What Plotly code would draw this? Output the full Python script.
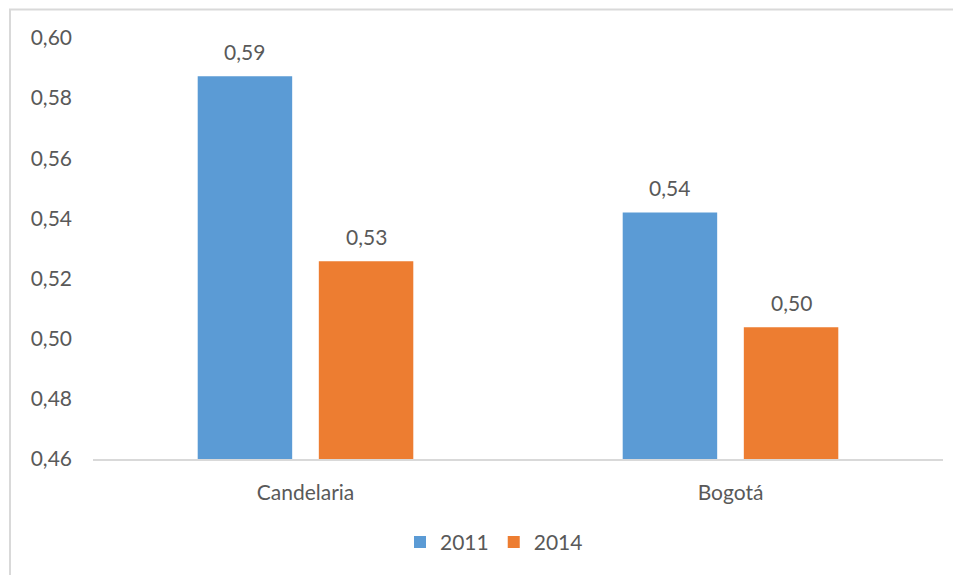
import plotly.graph_objects as go

categories = ["Candelaria", "Bogotá"]
series_names = ["2011", "2014"]
values_2011 = [0.5873, 0.5420]
values_2014 = [0.5258, 0.5038]
tick_vals = [0.46, 0.48, 0.50, 0.52, 0.54, 0.56, 0.58, 0.60]
tick_text = ["0,46", "0,48", "0,50", "0,52", "0,54", "0,56", "0,58", "0,60"]

colors = ["#5B9BD5", "#ED7D31"]
FONT = "Lato"
GRAY = "#595959"
FS = 21

# page has an 8px body margin; figure coordinates are page coordinates - 8
OFF = 8
W, H = 961 - OFF, 575 - OFF
ML, MT = 93 - OFF, 37.5 - OFF
MR = W - (943 - OFF)
MB = H - (459.5 - OFF)
PW = W - ML - MR
PH = H - MT - MB

fig = go.Figure()
series = [values_2011, values_2014]
for name, vals, col in zip(series_names, series, colors):
    fig.add_trace(go.Bar(
        x=categories, y=vals, name=name,
        marker=dict(color=col, line=dict(width=0)),
        offsetgroup=name,
    ))

# data labels as annotations above bars
slot = PW / len(categories) * (1 - 0.43) / 2
for si, vals in enumerate(series):
    shift = (si - 0.5) * slot
    for c, v in zip(categories, vals):
        fig.add_annotation(
            x=c, y=v, xref="x", yref="y",
            text=f"{v:.2f}".replace(".", ","),
            showarrow=False, xshift=shift, yshift=25, yanchor="middle",
            font=dict(family=FONT, size=FS, color=GRAY),
        )

# outer chart border (light gray)
fig.add_shape(
    type="rect", xref="paper", yref="paper",
    x0=(10 - OFF - ML) / PW, x1=(W + 10 - ML) / PW,
    y0=-(H + 10 - (H - MB)) / PH, y1=1 + (MT - 1) / PH,
    line=dict(color="#d9d9d9", width=2), fillcolor="rgba(0,0,0,0)", layer="below",
)

fig.update_layout(
    width=W, height=H,
    margin=dict(l=ML, r=MR, t=MT, b=MB, autoexpand=False),
    paper_bgcolor="white", plot_bgcolor="white",
    barmode="group", bargap=0.43, bargroupgap=0.22,
    font=dict(family=FONT, size=FS, color=GRAY),
    showlegend=True,
    legend=dict(
        orientation="h", x=(400 - OFF - ML) / PW, xanchor="left",
        y=-(543 - 459.5) / PH, yanchor="middle",
        font=dict(family=FONT, size=FS, color=GRAY),
        itemwidth=30, tracegroupgap=0,
    ),
    xaxis=dict(
        showline=True, linecolor="#d9d9d9", linewidth=1.5,
        showgrid=False, ticks="", ticklabelstandoff=14,
        tickfont=dict(family=FONT, size=FS, color=GRAY),
        zeroline=False,
    ),
    yaxis=dict(
        range=[0.46, 0.60], tickvals=tick_vals, ticktext=tick_text,
        showgrid=False, showline=False, zeroline=False, ticks="",
        ticklabelstandoff=20,
        tickfont=dict(family=FONT, size=FS, color=GRAY),
    ),
)

fig.write_html("out.html")
